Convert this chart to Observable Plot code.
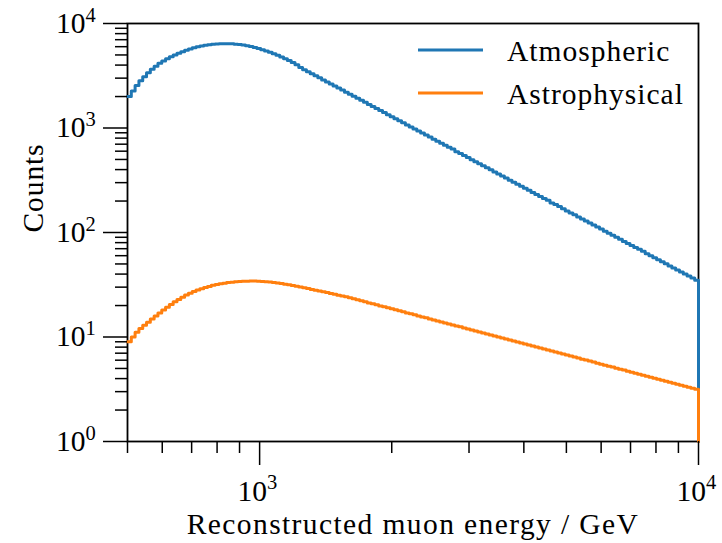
<!DOCTYPE html>
<html><head><meta charset="utf-8">
<script src="https://cdn.jsdelivr.net/npm/d3@7"></script>
<script src="https://cdn.jsdelivr.net/npm/@observablehq/plot@0.6"></script>
<style>
html,body{margin:0;padding:0;background:#fff;}
#wrap{position:relative;width:722px;height:543px;overflow:hidden;}
#legend{position:absolute;left:0;top:0;}
</style></head><body><div id="wrap"></div>
<script>
// ---- data ----
const xMin = 500, xMax = 10000, nBins = 150;
const atmospheric = [
  2000, 2260, 2550, 2830, 3100, 3380, 3640, 3900, 4160, 4380,
  4590, 4800, 5000, 5190, 5380, 5555, 5710, 5860, 5990, 6095,
  6185, 6260, 6315, 6355, 6385, 6400, 6405, 6385, 6345, 6290,
  6220, 6130, 6020, 5900, 5760, 5615, 5460, 5300, 5135, 4960,
  4780, 4595, 4415, 4225, 4035, 3800, 3617, 3458, 3305, 3160,
  3020, 2887, 2760, 2639, 2522, 2411, 2305, 2203, 2106, 2013,
  1925, 1840, 1759, 1681, 1607, 1536, 1469, 1404, 1342, 1283,
  1227, 1173, 1121, 1071, 1024, 979, 936, 895, 855, 818,
  782, 747, 714, 683, 653, 628, 594, 570, 545, 521,
  498, 476, 455, 435, 416, 398, 380, 363, 347, 332,
  317, 303, 290, 277, 265, 253, 242, 231, 221, 211,
  203, 192, 185, 177, 169, 161, 154, 148, 141, 135,
  129, 123, 118, 113, 108, 103, 98.5, 94.2, 90.0, 86.0,
  82.2, 78.6, 75.1, 71.8, 69.3, 66.2, 62.7, 59.9, 57.3, 54.8,
  52.4, 50.1, 47.9, 45.8, 43.8, 41.9, 40.1, 38.3, 36.6, 35.0
];
const astrophysical = [
  9.0, 10.0, 11.1, 12.05, 12.95, 13.85, 14.85, 15.9, 17.0, 18.1,
  19.3, 20.5, 21.7, 22.85, 24.0, 25.2, 26.25, 27.2, 28.15, 29.0,
  29.8, 30.5, 31.2, 31.8, 32.3, 32.75, 33.2, 33.5, 33.8, 34.05,
  34.15, 34.25, 34.3, 34.3, 34.2, 34.0, 33.8, 33.55, 33.2, 32.9,
  32.45, 32.05, 31.55, 31.05, 30.55, 30.1, 29.6, 29.05, 28.55, 28.05,
  27.6, 27.1, 26.6, 26.1, 25.6, 25.1, 24.65, 24.25, 23.7, 23.2,
  22.7, 22.2, 21.7, 21.2, 20.8, 20.3, 19.85, 19.45, 19.0, 18.6,
  18.2, 17.8, 17.4, 17.0, 16.65, 16.3, 15.9, 15.55, 15.25, 14.9,
  14.55, 14.25, 13.95, 13.65, 13.35, 13.05, 12.75, 12.5, 12.2, 11.95,
  11.7, 11.4, 11.15, 10.95, 10.7, 10.45, 10.2, 10.0, 9.78, 9.56,
  9.36, 9.15, 8.95, 8.76, 8.56, 8.38, 8.19, 8.01, 7.84, 7.67,
  7.5, 7.34, 7.18, 7.02, 6.86, 6.71, 6.57, 6.42, 6.28, 6.14,
  6.01, 5.88, 5.75, 5.62, 5.5, 5.38, 5.26, 5.15, 5.03, 4.92,
  4.82, 4.71, 4.61, 4.51, 4.41, 4.31, 4.22, 4.12, 4.03, 3.95,
  3.86, 3.78, 3.69, 3.61, 3.53, 3.46, 3.38, 3.31, 3.24, 3.17
];
const seriesNames = ["Atmospheric", "Astrophysical"];
const seriesColors = ["#1f77b4", "#ff7f0e"];
const xMajorTicks = [1000, 10000];
const xMinorTicks = [500, 600, 700, 800, 900, 2000, 3000, 4000, 5000, 6000, 7000, 8000, 9000];
const yMajorTicks = [1, 10, 100, 1000, 10000];
const yMinorTicks = [2,3,4,5,6,7,8,9, 20,30,40,50,60,70,80,90, 200,300,400,500,600,700,800,900, 2000,3000,4000,5000,6000,7000,8000,9000];
const xLabel = "Reconstructed muon energy / GeV";
const yLabel = "Counts";

// ---- build step tables (histogram bins, log-spaced edges) ----
const edges = d3.range(nBins + 1).map(k => xMin * Math.pow(xMax / xMin, k / nBins));
function stepPoints(values, name) {
  const pts = values.map((v, i) => ({x: edges[i], y: v, series: name}));
  pts.push({x: edges[nBins], y: values[nBins - 1], series: name});
  pts.push({x: edges[nBins], y: 1, series: name});
  return pts;
}
const atmPts = stepPoints(atmospheric, seriesNames[0]);
const astPts = stepPoints(astrophysical, seriesNames[1]);

const FS = 29.5, SUP = 20.5;
const font = "'Liberation Serif', 'DejaVu Serif', serif";

const plot = Plot.plot({
  width: 722, height: 543,
  marginLeft: 127, marginRight: 24, marginTop: 23, marginBottom: 102,
  style: {fontFamily: font, fontSize: FS + "px", background: "#fff", color: "#000"},
  x: {type: "log", domain: [xMin, xMax]},
  y: {type: "log", domain: [1, 10000]},
  marks: [
    Plot.frame({stroke: "#000", strokeWidth: 1.8}),
    Plot.line(atmPts, {x: "x", y: "y", curve: "step-after", stroke: seriesColors[0], strokeWidth: 3}),
    Plot.line(astPts, {x: "x", y: "y", curve: "step-after", stroke: seriesColors[1], strokeWidth: 3}),
    Plot.axisX(xMinorTicks, {anchor: "bottom", tickSize: 12, strokeWidth: 1.5, fill: "none", label: null}),
    Plot.axisX(xMajorTicks, {anchor: "bottom", tickSize: 24, strokeWidth: 1.5, fill: "none", label: null}),
    Plot.axisY(yMinorTicks, {anchor: "left", tickSize: 12, strokeWidth: 1.5, fill: "none", label: null}),
    Plot.axisY(yMajorTicks, {anchor: "left", tickSize: 24, strokeWidth: 1.5, fill: "none", label: null}),
    // x tick labels: 10^n
    Plot.text(xMajorTicks, {x: d => d, frameAnchor: "bottom", text: () => "10", textAnchor: "end", lineAnchor: "bottom", dx: 7.5, dy: 59, fontSize: FS}),
    Plot.text(xMajorTicks, {x: d => d, frameAnchor: "bottom", text: d => String(Math.round(Math.log10(d))), textAnchor: "start", lineAnchor: "bottom", dx: 7.5, dy: 47, fontSize: SUP}),
    // y tick labels
    Plot.text(yMajorTicks, {y: d => d, frameAnchor: "left", text: () => "10", textAnchor: "end", lineAnchor: "middle", dx: -42, fontSize: FS}),
    Plot.text(yMajorTicks, {y: d => d, frameAnchor: "left", text: d => String(Math.round(Math.log10(d))), textAnchor: "start", lineAnchor: "bottom", dx: -42, dy: -2, fontSize: SUP}),
    // axis titles
    Plot.text([xLabel], {frameAnchor: "bottom", text: d => d, lineAnchor: "bottom", dy: 92, fontSize: FS}),
    Plot.text([yLabel], {frameAnchor: "left", text: d => d, rotate: -90, lineAnchor: "bottom", dx: -85, fontSize: FS})
  ]
});
const wrap = document.getElementById("wrap");
wrap.appendChild(plot);
d3.select(plot).selectAll("text").each(function() {
  const t = this.textContent;
  if (t === xLabel) this.setAttribute("letter-spacing", "1.4");
  if (t === yLabel) this.setAttribute("letter-spacing", "0.9");
});

// legend overlay
const leg = d3.select(wrap).append("svg").attr("id", "legend").attr("width", 722).attr("height", 543)
  .style("font-family", font).style("font-size", FS + "px");
seriesNames.forEach((name, i) => {
  const yy = 50 + i * 43;
  leg.append("line").attr("x1", 418).attr("x2", 483).attr("y1", yy).attr("y2", yy)
    .attr("stroke", seriesColors[i]).attr("stroke-width", 3);
  leg.append("text").attr("x", 507).attr("y", yy + 11).attr("letter-spacing", "1")
    .attr("fill", "#000").text(name);
});
</script></body></html>
